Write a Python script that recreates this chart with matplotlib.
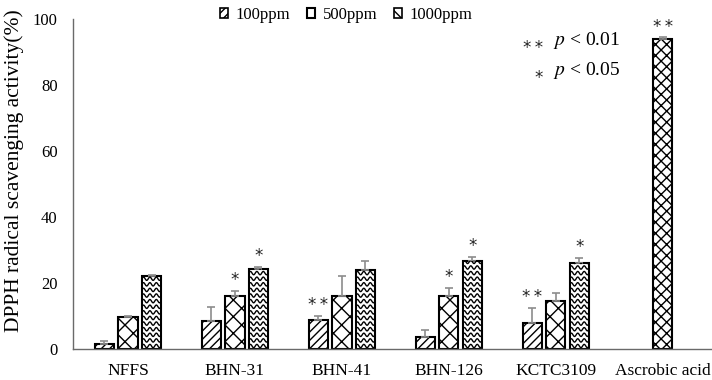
import numpy as np
import matplotlib
matplotlib.use('Agg')
import matplotlib.pyplot as plt
from matplotlib.patches import Patch

# ---- data ----
categories = ['NFFS', 'BHN-31', 'BHN-41', 'BHN-126', 'KCTC3109', 'Ascrobic acid']
series = ['100ppm', '500ppm', '1000ppm']
v100 = [1.5, 8.6, 8.8, 3.5, 8.0]
e100 = [0.8, 4.1, 1.3, 2.2, 4.3]
v500 = [9.8, 16.1, 16.1, 16.2, 14.6]
e500 = [0.2, 1.6, 6.0, 2.3, 2.5]
v1000 = [22.1, 24.1, 23.9, 26.8, 26.2]
e1000 = [0.3, 0.8, 2.7, 1.2, 1.3]
asc_value = [94.0]
asc_err = [0.4]
sig100 = ['', '', '**', '', '**']
sig500 = ['', '*', '', '*', '']
sig1000 = ['', '*', '', '*', '*']
sig_asc = ['**']
yticks = [0, 20, 40, 60, 80, 100]

plt.rcParams['font.family'] = ['Liberation Serif', 'DejaVu Serif']
plt.rcParams['mathtext.fontset'] = 'stix'
plt.rcParams['hatch.linewidth'] = 1.0

fig = plt.figure(figsize=(7.12, 3.8), dpi=100)
ax = fig.add_axes([73/712, 31/380, 639/712, 330/380])

x = np.arange(len(categories))
xs = x[:5]
w = 0.18
off = 0.22
ekw = dict(ecolor='#8c8c8c', elinewidth=1.2, capsize=2.6, capthick=1.2)

def up(err):
    return [np.zeros(len(err)), np.array(err)]

b1 = ax.bar(xs - off, v100, w, yerr=up(e100), facecolor='white', edgecolor='black',
            linewidth=1.5, hatch='////', error_kw=ekw, zorder=2)
b2 = ax.bar(xs, v500, w, yerr=up(e500), facecolor='white', edgecolor='black',
            linewidth=1.5, hatch='xx', error_kw=ekw, zorder=2)
b3 = ax.bar(xs + off, v1000, w, yerr=up(e1000), facecolor='white', edgecolor='black',
            linewidth=1.5, error_kw=ekw, zorder=2)
b4 = ax.bar(x[5:], asc_value, w, yerr=up(asc_err), facecolor='white', edgecolor='black',
            linewidth=1.5, hatch='xxx', error_kw=ekw, zorder=2)

# wavy hatch for 1000ppm bars, clipped to each bar
for bar in b3:
    bx, bw, bh = bar.get_x(), bar.get_width(), bar.get_height()
    xx = np.linspace(bx, bx + bw, 80)
    lam = bw / 3.0
    for y0 in np.arange(0.9, bh + 1.0, 1.7):
        yy = y0 + 0.5 * np.sin(2 * np.pi * (xx - bx) / lam)
        ln, = ax.plot(xx, yy, color='black', lw=1.0, zorder=2.5)
        ln.set_clip_path(bar)

# significance marks
def stars(bars, vals, errs, sigs):
    for bar, v, e, s in zip(bars, vals, errs, sigs):
        if s:
            ax.text(bar.get_x() + bar.get_width() / 2, v + e + 0.6,
                    '\u2009'.join(list(s)), ha='center', va='bottom',
                    fontsize=12, family='DejaVu Sans', color='#222222', zorder=3)

stars(b1, v100, e100, sig100)
stars(b2, v500, e500, sig500)
stars(b3, v1000, e1000, sig1000)
stars(b4, asc_value, asc_err, sig_asc)

# p-value key
ax.text(0.7355, 0.912, '*\u2009*', transform=ax.transAxes, ha='right', va='center',
        fontsize=12, family='DejaVu Sans', color='#222222')
ax.text(0.751, 0.936, r'$p$ < 0.01', transform=ax.transAxes, ha='left', va='center', fontsize=14)
ax.text(0.7355, 0.822, '*', transform=ax.transAxes, ha='right', va='center',
        fontsize=12, family='DejaVu Sans', color='#222222')
ax.text(0.751, 0.845, r'$p$ < 0.05', transform=ax.transAxes, ha='left', va='center', fontsize=14)

ax.set_xlim(-0.514, 5.46)
ax.set_ylim(0, 100)
ax.set_yticks(yticks)
ax.set_xticks(x)
ax.set_xticklabels(categories, fontsize=12.5)
ax.tick_params(axis='y', length=0, pad=11, labelsize=12)
ax.tick_params(axis='x', length=0, pad=10)
for s in ['top', 'right']:
    ax.spines[s].set_visible(False)
for s in ['left', 'bottom']:
    ax.spines[s].set_color('#6a6a6a')
    ax.spines[s].set_linewidth(1.0)
ax.set_ylabel('DPPH radical scavenging activity(%)', fontsize=15.5)
ax.yaxis.set_label_coords(-0.076, 0.542)

handles = [Patch(facecolor='white', edgecolor='black', hatch='////', linewidth=1.2),
           Patch(facecolor='white', edgecolor='black', linewidth=1.5),
           Patch(facecolor='white', edgecolor='black', hatch='\\\\', linewidth=1.2)]
fig.legend(handles, series, loc='center', bbox_to_anchor=(346/712, 1 - 15/380), ncol=3,
           frameon=False, fontsize=12, handlelength=0.5, handleheight=0.5,
           handletextpad=0.45, columnspacing=1.0)

fig.savefig('out.png', dpi=100)
